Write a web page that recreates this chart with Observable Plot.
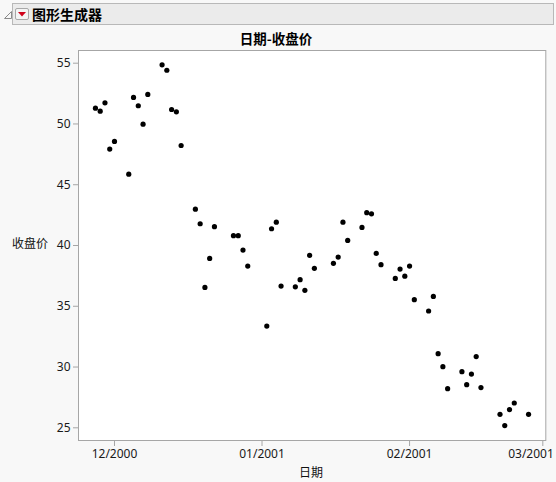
<!DOCTYPE html>
<html>
<head>
<meta charset="utf-8">
<script src="https://cdn.jsdelivr.net/npm/d3@7"></script>
<script src="https://cdn.jsdelivr.net/npm/@observablehq/plot@0.6"></script>
<style>
  html, body { margin: 0; padding: 0; background: #f8f8f8; }
  body { width: 556px; height: 482px; position: relative; overflow: hidden;
         font-family: "Noto Sans", "Noto Sans CJK SC", sans-serif; }
  .abs { position: absolute; white-space: nowrap; }
  #hdr { left: 12px; top: 3px; width: 542px; height: 22px; box-sizing: border-box;
         background: #ebebeb; border: 1px solid #b8b8b8; }
  #hdrtitle { left: 32px; top: 3px; font-size: 14px; font-weight: bold; color: #000; line-height: 22px;
              font-family: "Noto Sans CJK SC", sans-serif; }
  #title { left: 0; width: 552px; text-align: center; top: 28px; font-size: 13.5px; font-weight: bold;
           color: #000; font-family: "Noto Sans CJK SC", sans-serif; }
  #ylab { left: 12px; top: 234px; font-size: 12px; color: #111; font-family: "Noto Sans CJK SC", sans-serif; }
  #xlab { left: 299px; top: 463px; font-size: 12px; color: #111; font-family: "Noto Sans CJK SC", sans-serif; }
  #chart { left: 0; top: 0; }
</style>
</head>
<body>
<div id="chart" class="abs"></div>
<div id="hdr" class="abs"></div>
<svg class="abs" style="left:0;top:0" width="40" height="28">
  <path d="M4.5,18.5 L11.5,11.5 L11.5,18.5 Z" fill="none" stroke="#8a8a8a" stroke-width="1"/>
  <rect x="15.5" y="8.5" width="13" height="11" rx="1.5" fill="#f4f4f4" stroke="#a8a8a8"/>
  <path d="M18,12 L26,12 L22,16.5 Z" fill="#d0021b"/>
</svg>
<div id="hdrtitle" class="abs">图形生成器</div>
<div id="title" class="abs">日期-收盘价</div>
<div id="ylab" class="abs">收盘价</div>
<div id="xlab" class="abs">日期</div>
<script>
// ---- data ----
const dates = [
  "2000-11-27","2000-11-28","2000-11-29","2000-11-30","2000-12-01",
  "2000-12-04","2000-12-05","2000-12-06","2000-12-07","2000-12-08",
  "2000-12-11","2000-12-12","2000-12-13","2000-12-14","2000-12-15",
  "2000-12-18","2000-12-19","2000-12-20","2000-12-21","2000-12-22",
  "2000-12-26","2000-12-27","2000-12-28","2000-12-29",
  "2001-01-02","2001-01-03","2001-01-04","2001-01-05",
  "2001-01-08","2001-01-09","2001-01-10","2001-01-11","2001-01-12",
  "2001-01-16","2001-01-17","2001-01-18","2001-01-19",
  "2001-01-22","2001-01-23","2001-01-24","2001-01-25","2001-01-26",
  "2001-01-29","2001-01-30","2001-01-31","2001-02-01","2001-02-02",
  "2001-02-05","2001-02-06","2001-02-07","2001-02-08","2001-02-09",
  "2001-02-12","2001-02-13","2001-02-14","2001-02-15","2001-02-16",
  "2001-02-20","2001-02-21","2001-02-22","2001-02-23",
  "2001-02-26"
];
const closes = [
  51.30, 51.05, 51.74, 47.93, 48.56,
  45.87, 52.18, 51.50, 49.98, 52.43,
  54.87, 54.42, 51.19, 51.00, 48.23,
  42.99, 41.79, 36.55, 38.94, 41.55,
  40.81, 40.81, 39.62, 38.31,
  33.37, 41.38, 41.92, 36.66,
  36.60, 37.19, 36.31, 39.19, 38.12,
  38.53, 39.05, 41.92, 40.42,
  41.49, 42.70, 42.61, 39.35, 38.42,
  37.29, 38.06, 37.48, 38.31, 35.54,
  34.61, 35.81, 31.10, 30.03, 28.22,
  29.62, 28.55, 29.42, 30.86, 28.31,
  26.11, 25.18, 26.50, 27.04,
  26.11
];
const xTickDates = ["2000-12-01","2001-01-01","2001-02-01","2001-03-01"];
const xTickLabels = ["12/2000","01/2001","02/2001","03/2001"];
const yTicks = [25, 30, 35, 40, 45, 50, 55];

const data = dates.map((d, i) => ({date: new Date(d + "T00:00:00Z"), close: closes[i]}));
const xTicks = xTickDates.map(d => new Date(d + "T00:00:00Z"));
const lastTick = xTicks[xTicks.length - 1];
const labelOf = new Map(xTicks.map((d, i) => [+d, xTickLabels[i]]));

const chart = Plot.plot({
  width: 556,
  height: 482,
  marginLeft: 78,
  marginRight: 10.7,
  marginTop: 50,
  marginBottom: 42,
  style: {background: "#f8f8f8", fontFamily: "'Noto Sans', 'Noto Sans CJK SC', sans-serif", fontSize: "12px", color: "#1a1a1a"},
  x: {type: "utc", domain: [new Date("2000-11-23T10:30:00Z"), new Date("2001-03-01T15:00:00Z")]},
  y: {domain: [23.955, 56.045]},
  marks: [
    Plot.frame({fill: "white", stroke: "none"}),
    Plot.dot(data, {x: "date", y: "close", r: 2.6, fill: "black", stroke: "none"}),
    Plot.frame({stroke: "#a6a6a6", strokeWidth: 1}),
    // ticks for all months, labels for all but the last
    Plot.axisX({ticks: xTicks, tickFormat: d => (+d === +lastTick ? "" : labelOf.get(+d)),
                tickSize: 6, tickPadding: 3, label: null, stroke: "#a6a6a6", fill: "#1a1a1a", strokeOpacity: 1}),
    // last label, kept inside the picture (right-aligned like the reference)
    Plot.axisX({ticks: [lastTick], tickFormat: d => labelOf.get(+d), tickSize: 0, tickPadding: 9,
                textAnchor: "end", dx: 11, label: null, fill: "#1a1a1a"}),
    Plot.axisY({ticks: yTicks, tickSize: 5, tickPadding: 3, label: null, stroke: "#a6a6a6", fill: "#1a1a1a", strokeOpacity: 1})
  ]
});
document.getElementById("chart").appendChild(chart);
</script>
</body>
</html>
